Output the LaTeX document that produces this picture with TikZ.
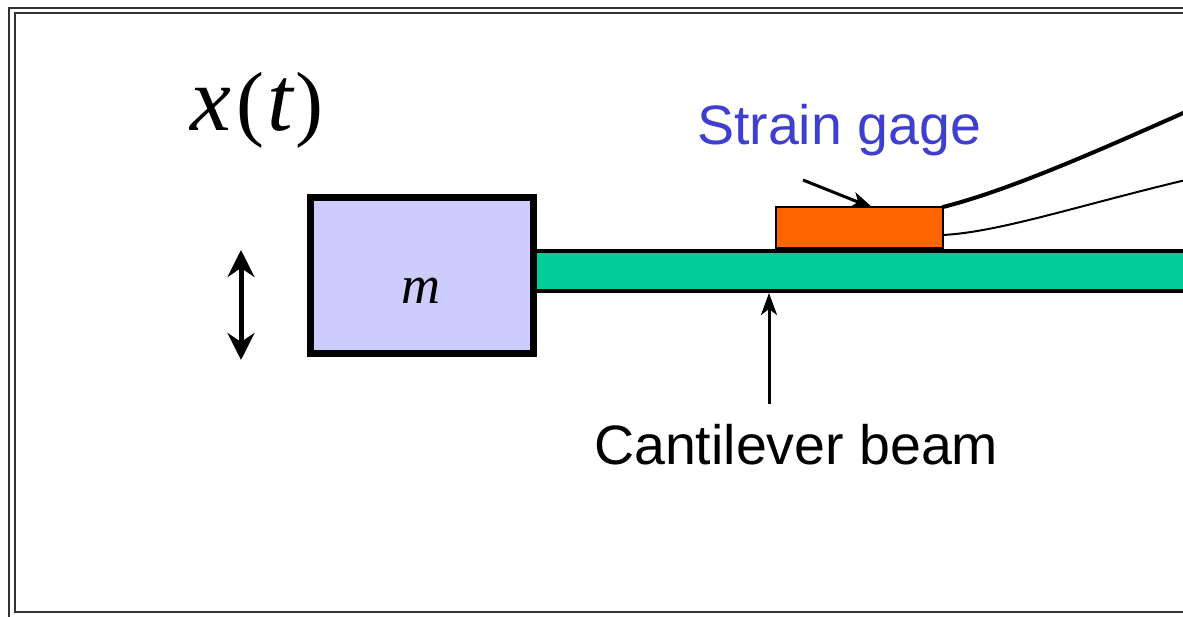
\documentclass[tikz,border=0pt]{standalone}
\usepackage{fontspec}
\setmainfont{Liberation Sans}
\newfontfamily\timesfont{Liberation Serif}
\usetikzlibrary{arrows.meta,positioning}
\definecolor{massblue}{HTML}{CCCCFF}
\definecolor{beamgreen}{HTML}{00CC99}
\definecolor{gageorange}{HTML}{FF6600}
\definecolor{labelblue}{HTML}{3F3FCF}
\definecolor{framegray}{HTML}{333333}

\begin{document}
\begin{tikzpicture}[
		x=1pt, y=-1pt,
		>={Stealth[length=22pt,width=16pt,inset=6pt]},
		part/.style={draw=black, inner sep=0pt, outer sep=0pt, anchor=north west},
		framebox/.style={draw=framegray, line width=2pt, inner sep=0pt, outer sep=0pt, anchor=north west},
		label/.style={font=\fontsize{55.5}{60}\selectfont, inner sep=0pt},
		symbol/.style={font=\timesfont\itshape, inner sep=0pt},
		pointer/.style={->, line width=3pt},
		wire/.style={line cap=round},
	]
	\useasboundingbox (0,0) rectangle (1183,617);
	\clip (0,0) rectangle (1183,617);

	\node[framebox, minimum width=1300pt, minimum height=700pt] (outerframe) at (9,8) {};
	\node[framebox, minimum width=1300pt, minimum height=599pt] (innerframe) at (15,13) {};

	\node[part, fill=beamgreen, line width=4pt, minimum width=700pt, minimum height=40pt]
	(beam) at (533,251) {};
	\node[part, fill=massblue, line width=7pt, minimum width=223pt, minimum height=156pt]
	(mass) at (310,198) {};
	\node[part, fill=gageorange, line width=2pt, minimum width=167pt, minimum height=41pt]
	(gage) at (776,207) {};

	\node[symbol] (massname) at (421,291) {\fontsize{54}{58}\selectfont m};
	\node[symbol, anchor=base west] (motion) at (190,131)
	{\fontsize{92}{96}\selectfont x\/\hspace{5pt}{\fontsize{84}{90}\selectfont\upshape(}\hspace{3pt}t\hspace{3pt}{\fontsize{84}{90}\selectfont\upshape)}};

	\node[label, text=labelblue, anchor=base west] (gagename) at (697,145) {Strain gage};
	\node[label, text=black, anchor=base west] (beamname) at (594,464) {Cantilever beam};

	\coordinate (gagetail) at (803,180);
	\coordinate (gagetip) at (873,208);
	\coordinate (beamtail) at (769,404);
	\coordinate (beamtip) at (769,293);
	\coordinate (motiontop) at (241,250);
	\coordinate (motionbottom) at (241,360);
	\coordinate (thickend) at (1190,110);
	\coordinate (thinend) at (1190,179);

	\draw[pointer] (gagetail) -- (gagetip);
	\draw[pointer] (beamtail) -- (beamtip);
	\draw[<->, line width=5pt, >={Stealth[length=27pt,width=27pt,inset=9pt]}]
	(motiontop) -- (motionbottom);

	\draw[wire, line width=4pt] (gage.north east) .. controls (1010,190) and (1100,150) .. (thickend);
	\draw[wire, line width=2pt] ([yshift=-28pt]gage.north east) .. controls (1000,232) and (1080,205) .. (thinend);
\end{tikzpicture}
\end{document}
